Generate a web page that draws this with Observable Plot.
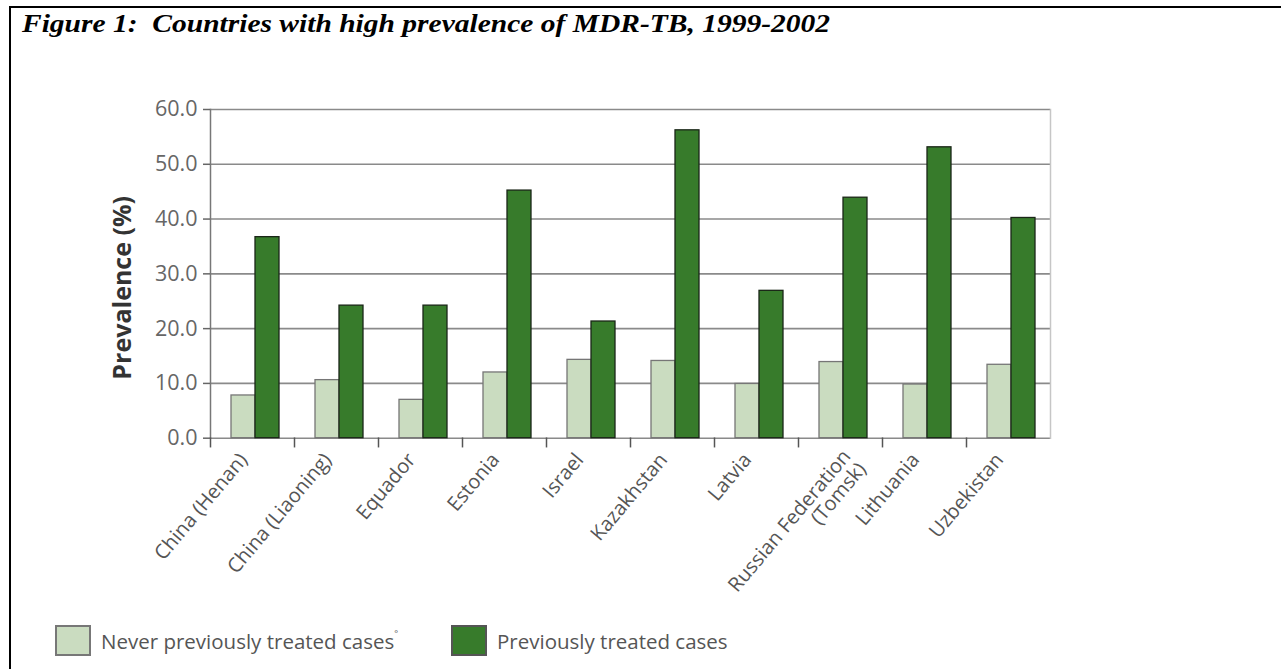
<!DOCTYPE html>
<html>
<head>
<meta charset="utf-8">
<script src="https://cdn.jsdelivr.net/npm/d3@7"></script>
<script src="https://cdn.jsdelivr.net/npm/@observablehq/plot@0.6"></script>
<style>
  html, body { margin: 0; padding: 0; background: #fff; }
  #page { position: relative; width: 1284px; height: 669px; overflow: hidden; }
  #frame { position: absolute; left: 9px; top: 6px; width: 1270px; height: 700px;
           border-top: 2px solid #000; border-left: 2px solid #000; }
  #title { position: absolute; left: 0; top: 0; }
  #chart { position: absolute; left: 0; top: 60px; }
  #legend { position: absolute; left: 0; top: 620px; width: 1284px; height: 45px;
            font-family: "Open Sans", sans-serif; font-size: 20.5px; color: #555; }
  .item { position: absolute; top: 5px; height: 31px; display: flex; align-items: center; }
  .sw { width: 32px; height: 27px; border: 2px solid #6e6e6e; margin-right: 10px; box-sizing: content-box; }
  .item span { white-space: nowrap; }
  sup { font-size: 9px; position: relative; top: -4px; }
</style>
</head>
<body>
<div id="page">
  <div id="frame"></div>
  <svg id="title" width="1284" height="50">
    <text x="22" y="32" textLength="808" lengthAdjust="spacingAndGlyphs"
      style="white-space: pre; font-family: 'Liberation Serif', serif; font-weight: bold; font-style: italic; font-size: 25px; fill: #000;">Figure 1:  Countries with high prevalence of MDR-TB, 1999-2002</text>
  </svg>
  <div id="chart"></div>
  <div id="legend"></div>
</div>
<script>
// ---- data ----
const countries = ["China (Henan)", "China (Liaoning)", "Equador", "Estonia", "Israel",
  "Kazakhstan", "Latvia", "Russian Federation\n(Tomsk)", "Lithuania", "Uzbekistan"];
const seriesNames = ["Never previously treated cases", "Previously treated cases"];
const neverTreated = [7.8, 10.6, 7.0, 12.0, 14.3, 14.1, 9.9, 13.9, 9.8, 13.4];
const previouslyTreated = [36.7, 24.2, 24.2, 45.2, 21.3, 56.2, 26.9, 43.9, 53.1, 40.2];
const yTicks = [0, 10, 20, 30, 40, 50, 60];
const yLabel = "Prevalence (%)";
const seriesFill = ["#cadcc0", "#377b2b"];
const seriesStroke = ["#767676", "#1a2617"];
const swatchBorder = ["#777", "#555"];

const table = countries.flatMap((c, i) => [
  {country: c, series: seriesNames[0], value: neverTreated[i]},
  {country: c, series: seriesNames[1], value: previouslyTreated[i]}
]);

// ---- layout ----
const W = 1284, H = 560, mL = 207, mR = 232, mT = 49, mB = 182.3;
const plotH = H - mT - mB;
const isTwoLine = c => c.includes("\n");
const fxLabelStyle = {anchor: "bottom", tickSize: 0, tickRotate: -50, tickPadding: 12,
  fontSize: 20, color: "#555", label: null};

const chart = Plot.plot({
  width: W, height: H,
  marginLeft: mL, marginRight: mR, marginTop: mT, marginBottom: mB,
  style: {fontFamily: "'Open Sans', sans-serif", background: "transparent", overflow: "visible"},
  fx: {domain: countries, paddingInner: 0, paddingOuter: 0, axis: null, label: null},
  x: {domain: seriesNames, paddingInner: 0, paddingOuter: 0.725, align: 0.58, axis: null},
  y: {domain: [0, 60], axis: null},
  marks: [
    Plot.gridY(yTicks, {stroke: "#8a8a8a", strokeOpacity: 1, strokeWidth: 1.6}),
    Plot.frame({anchor: "right", facetAnchor: "right", stroke: "#c6c6c6", strokeWidth: 1.5}),
    seriesNames.map((s, k) => Plot.barY(table.filter(d => d.series === s), {
      fx: "country", x: "series", y: "value",
      fill: seriesFill[k], stroke: seriesStroke[k], strokeWidth: 1.3
    })),
    Plot.frame({anchor: "left", facetAnchor: "left", stroke: "#777", strokeWidth: 1.5}),
    Plot.frame({anchor: "left", insetTop: plotH, insetBottom: -8.5, stroke: "#555", strokeWidth: 1.5}),
    Plot.axisY(yTicks, {
      anchor: "left", tickFormat: d3.format(".1f"), tickSize: 7, tickPadding: 6,
      fontSize: 21.5, color: "#666", strokeWidth: 1.5, label: null
    }),
    Plot.text([yLabel], {
      text: d => d, frameAnchor: "left", facetAnchor: "left", rotate: -90,
      textAnchor: "middle", dx: -88, dy: 14, fontSize: 25, fontWeight: 700, fill: "#333"
    }),
    Plot.axisFx({...fxLabelStyle, tickFormat: d => isTwoLine(d) ? "" : d, dx: -9, dy: 6}),
    Plot.axisFx({...fxLabelStyle, tickFormat: d => isTwoLine(d) ? d : "", dx: 14, dy: 9})
  ]
});
document.getElementById("chart").appendChild(chart);

// ---- legend ----
const legend = document.getElementById("legend");
const legendLeft = [55, 451];
seriesNames.forEach((s, k) => {
  const item = document.createElement("div");
  item.className = "item";
  item.style.left = legendLeft[k] + "px";
  const sw = document.createElement("div");
  sw.className = "sw";
  sw.style.background = seriesFill[k];
  sw.style.borderColor = swatchBorder[k];
  const label = document.createElement("span");
  label.textContent = s;
  if (k === 0) { const sup = document.createElement("sup"); sup.textContent = "°"; label.appendChild(sup); }
  item.appendChild(sw); item.appendChild(label);
  legend.appendChild(item);
});
</script>
</body>
</html>
